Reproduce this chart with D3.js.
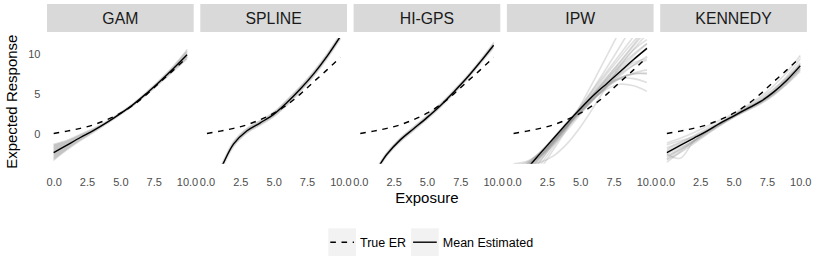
<!DOCTYPE html>
<html>
<head>
<meta charset="utf-8">
<script src="https://cdn.jsdelivr.net/npm/d3@7"></script>
<style>
  body { margin: 0; background: #fff; }
  text { font-family: "Liberation Sans", Arial, Helvetica, sans-serif; }
</style>
</head>
<body>
<div id="chart"></div>
<script>
// exposure grid shared by every curve
const exposure = [0, 1, 2, 3, 4, 5, 6, 7, 8, 9, 10];
const methods = ["GAM", "SPLINE", "HI-GPS", "IPW", "KENNEDY"];
const xTicks = [0, 2.5, 5, 7.5, 10];
const yTicks = [0, 5, 10];

// true exposure-response (dashed)
const trueER = [0, 0.3, 0.65, 1.1, 1.75, 2.55, 3.6, 4.95, 6.5, 8.0, 9.6];

// mean estimated curves (solid)
const meanGAM = [-2.4, -1.45, -0.5, 0.4, 1.4, 2.5, 3.7, 5.1, 6.6, 8.2, 9.9];
const meanSPLINE = [-7.5, -4.5, -1.3, 0.35, 1.35, 2.4, 3.9, 5.6, 7.5, 9.7, 12.2];
const meanHIGPS = [-6.5, -5.0, -2.6, -0.8, 0.6, 2.0, 3.5, 5.2, 7.0, 9.0, 11.1];
const meanIPW = [-5.9, -4.4, -2.5, -0.6, 1.3, 3.1, 4.8, 6.3, 7.8, 9.3, 10.7];
const meanKENNEDY = [-2.4, -1.5, -0.6, 0.3, 1.3, 2.2, 3.1, 4.0, 5.2, 6.7, 8.5];

// grey bands around the smoother fits
const lowerGAM = [-3.4, -2.1, -0.95, 0.1, 1.2, 2.3, 3.5, 4.85, 6.3, 7.8, 9.3];
const upperGAM = [-1.3, -0.8, -0.05, 0.7, 1.6, 2.7, 3.9, 5.35, 6.9, 8.6, 10.6];
const lowerSPLINE = [-7.9, -4.9, -1.7, 0.0, 1.0, 2.05, 3.5, 5.2, 7.1, 9.3, 11.8];
const upperSPLINE = [-7.1, -4.1, -0.9, 0.7, 1.7, 2.75, 4.3, 6.0, 7.9, 10.1, 12.6];
const lowerHIGPS = [-6.8, -5.3, -2.9, -1.1, 0.3, 1.7, 3.2, 4.9, 6.7, 8.7, 10.7];
const upperHIGPS = [-6.2, -4.7, -2.3, -0.5, 0.9, 2.3, 3.8, 5.5, 7.3, 9.3, 11.5];

// individual replicate fits
const runsIPW = [
  [-6, -4.3, -2.5, -0.8, 0.9, 2.6, 4.3, 6.0, 7.6, 9.2, 10.8],
  [-7, -5, -3, -1, 1, 3, 5, 7, 9, 11, 13],
  [-5, -3.8, -2.3, -0.6, 1.1, 2.8, 4.4, 5.8, 6.9, 7.6, 8.0],
  [-4.2, -3.6, -2.4, -0.8, 1.0, 2.9, 4.6, 6.0, 7.0, 7.5, 7.6],
  [-3.9, -3.7, -2.8, -1.2, 0.8, 2.9, 4.8, 6.2, 6.9, 6.9, 6.4],
  [-8, -5.8, -3.5, -1.2, 1.0, 3.1, 5.1, 7.1, 9.1, 11.2, 13.5],
  [-9, -6.5, -4, -1.6, 0.8, 3.2, 5.7, 8.3, 11, 13.8, 16.7],
  [-6.5, -4.6, -2.7, -0.8, 1.1, 3.0, 4.9, 6.8, 8.5, 10.0, 11.3],
  [-5.5, -4.0, -2.4, -0.7, 1.0, 2.7, 4.3, 5.9, 7.3, 8.6, 9.7],
  [-4.5, -3.9, -2.9, -1.4, 0.4, 2.4, 4.3, 5.9, 7.0, 7.5, 7.5],
  [-5.2, -4.1, -2.7, -1.1, 0.7, 2.6, 4.5, 6.3, 7.8, 8.9, 9.4],
  [-7.5, -5.5, -3.4, -1.3, 0.9, 3.1, 5.3, 7.5, 9.6, 11.6, 13.5],
  [-4.2, -4.0, -3.6, -2.8, -1.3, 0.8, 3.3, 6.0, 8.5, 10.5, 11.8],
  [-10, -7, -4.5, -2, 0.6, 3.5, 6.6, 9.8, 13, 16, 19],
  [-3.8, -3.5, -2.5, -1.0, 0.9, 2.8, 4.4, 5.6, 6.2, 6.0, 5.3],
  [-6.8, -5.0, -3.1, -1.0, 1.2, 3.4, 5.6, 7.8, 10.0, 12.2, 14.4],
  [-6.2, -4.6, -2.8, -0.9, 1.0, 2.9, 4.7, 6.5, 8.2, 9.8, 11.3],
  [-5.8, -4.2, -2.4, -0.5, 1.4, 3.2, 4.9, 6.5, 8.0, 9.4, 10.6],
  [-6.6, -4.8, -2.9, -0.9, 1.1, 3.0, 4.9, 6.8, 8.7, 10.6, 12.5],
  [-4.8, -3.9, -2.6, -0.9, 0.9, 2.7, 4.5, 6.1, 7.5, 8.6, 9.2]
];
const runsKENNEDY = [
  [-1.4, -0.9, -0.4, 0.4, 1.3, 2.2, 3.2, 4.2, 5.5, 7.2, 9.4],
  [-3.6, -2.3, -1.0, 0.2, 1.2, 2.1, 3.0, 3.9, 5.0, 6.4, 8.0],
  [-2.0, -1.2, -0.5, 0.4, 1.4, 2.3, 3.2, 4.1, 5.3, 6.9, 8.9],
  [-3.0, -1.9, -0.9, 0.2, 1.2, 2.1, 3.0, 3.9, 5.0, 6.5, 8.2],
  [-1.2, -0.6, 0.1, 0.9, 1.7, 2.5, 3.5, 4.6, 6.0, 7.7, 9.8],
  [-3.3, -2.4, -1.3, -0.1, 1.0, 2.0, 2.9, 3.8, 4.9, 6.2, 7.8],
  [-2.6, -1.7, -0.9, 0.2, 1.3, 2.3, 3.1, 3.9, 5.1, 6.8, 8.7],
  [-2.6, -3.1, -1.0, 0.3, 1.2, 2.2, 3.2, 4.0, 5.2, 6.6, 8.3],
  [-1.8, -1.1, -0.3, 0.6, 1.4, 2.3, 3.3, 4.4, 5.6, 7.0, 8.6],
  [-2.8, -2.0, -1.1, 0.0, 1.1, 2.1, 2.9, 3.7, 4.8, 6.3, 8.1],
  [-2.2, -1.4, -0.6, 0.3, 1.3, 2.2, 3.2, 4.1, 5.3, 6.8, 8.6],
  [-3.2, -2.1, -1.0, 0.1, 1.1, 2.1, 3.0, 4.0, 5.2, 6.6, 8.3]
];

const means = { "GAM": meanGAM, "SPLINE": meanSPLINE, "HI-GPS": meanHIGPS, "IPW": meanIPW, "KENNEDY": meanKENNEDY };
const bands = {
  "GAM": d3.zip(lowerGAM, upperGAM),
  "SPLINE": d3.zip(lowerSPLINE, upperSPLINE),
  "HI-GPS": d3.zip(lowerHIGPS, upperHIGPS)
};
const runs = { "IPW": runsIPW, "KENNEDY": runsKENNEDY };

const width = 814;
const height = 271;
const panelTop = 31.7;
const panelBottom = 171.7;
const panelLeft = 47;
const panelW = 146.7;
const panelGap = 6.6;
const font = '"Liberation Sans", Arial, Helvetica, sans-serif';

const svg = d3.select("#chart")
  .append("svg")
  .attr("width", width)
  .attr("height", height);

// shared y scale (values outside -3.8..12 are cut off)
const y = d3.scaleLinear().domain([-4.8, 12.8]).range([panelBottom, panelTop]);

methods.forEach((m, i) => {
  const x0 = panelLeft + i * (panelW + panelGap);
  const x = d3.scaleLinear().domain([-0.5, 10.5]).range([x0, x0 + panelW]);

  const line = d3.line()
    .x((d, j) => x(exposure[j]))
    .y(d => y(d))
    .curve(d3.curveCatmullRom);

  const g = svg.append("g");

  // strip
  g.append("rect")
    .attr("x", x0).attr("y", 4)
    .attr("width", panelW).attr("height", 28)
    .attr("fill", "#d9d9d9");
  g.append("text")
    .attr("x", x0 + panelW / 2).attr("y", 18)
    .attr("dy", "0.36em")
    .attr("text-anchor", "middle")
    .attr("font-size", 15.8)
    .attr("fill", "#1a1a1a")
    .text(m);

  // clip
  const clipId = "clip" + i;
  svg.append("clipPath").attr("id", clipId)
    .append("rect")
    .attr("x", x0).attr("y", y(12))
    .attr("width", panelW).attr("height", y(-3.8) - y(12));

  const plot = g.append("g").attr("clip-path", `url(#${clipId})`);

  if (bands[m]) {
    const area = d3.area()
      .x((d, j) => x(exposure[j]))
      .y0(d => y(d[0]))
      .y1(d => y(d[1]))
      .curve(d3.curveCatmullRom);
    plot.append("path")
      .datum(bands[m])
      .attr("d", area)
      .attr("fill", "#c4c4c4")
      .attr("stroke", "#e0e0e0")
      .attr("stroke-width", 0.8);
  }

  if (runs[m]) {
    plot.append("g")
      .selectAll("path")
      .data(runs[m])
      .join("path")
      .attr("d", line)
      .attr("fill", "none")
      .attr("stroke", "#999")
      .attr("stroke-opacity", 0.3)
      .attr("stroke-width", 1.6);
  }

  plot.append("path")
    .datum(means[m])
    .attr("d", line)
    .attr("fill", "none")
    .attr("stroke", "#000")
    .attr("stroke-width", 1.4);

  plot.append("path")
    .datum(trueER)
    .attr("d", line)
    .attr("fill", "none")
    .attr("stroke", "#000")
    .attr("stroke-width", 1.4)
    .attr("stroke-dasharray", "5.6,5.6");

  // x axis
  const xAxis = g.append("g")
    .attr("transform", `translate(0,${panelBottom})`)
    .call(d3.axisBottom(x).tickValues(xTicks).tickFormat(d3.format(".1f")).tickSize(0).tickPadding(6.6));
  xAxis.select(".domain").remove();
  xAxis.selectAll("text")
    .attr("font-size", 11)
    .attr("font-family", font)
    .attr("fill", "#4d4d4d");

  // y axis only on the first panel
  if (i === 0) {
    const yAxis = g.append("g")
      .attr("transform", `translate(${x0},0)`)
      .call(d3.axisLeft(y).tickValues(yTicks).tickSize(0).tickPadding(6.6));
    yAxis.select(".domain").remove();
    yAxis.selectAll("text")
      .attr("font-size", 11)
      .attr("font-family", font)
      .attr("fill", "#4d4d4d");
  }
});

// axis titles
const plotRight = panelLeft + 5 * panelW + 4 * panelGap;
svg.append("text")
  .attr("x", (panelLeft + plotRight) / 2)
  .attr("y", 203)
  .attr("text-anchor", "middle")
  .attr("font-size", 15)
  .text("Exposure");

svg.append("text")
  .attr("transform", `translate(17,${(panelTop + panelBottom) / 2}) rotate(-90)`)
  .attr("text-anchor", "middle")
  .attr("font-size", 15)
  .text("Expected Response");

// legend
const legendItems = [
  { label: "True ER", dash: "5.6,5.6" },
  { label: "Mean Estimated", dash: null }
];
const keySize = 27.7;
const legendY = 242.2;
let lx = 328.3;
legendItems.forEach(item => {
  const lg = svg.append("g");
  lg.append("rect")
    .attr("x", lx).attr("y", legendY - keySize / 2)
    .attr("width", keySize).attr("height", keySize)
    .attr("fill", "#f2f2f2");
  lg.append("line")
    .attr("x1", lx + 2).attr("x2", lx + keySize - 2)
    .attr("y1", legendY).attr("y2", legendY)
    .attr("stroke", "#000")
    .attr("stroke-width", 1.4)
    .attr("stroke-dasharray", item.dash);
  const t = lg.append("text")
    .attr("x", lx + keySize + 4)
    .attr("y", legendY)
    .attr("dy", "0.36em")
    .attr("font-size", 12.5)
    .text(item.label);
  lx += keySize + 4 + t.node().getComputedTextLength() + 5;
});
</script>
</body>
</html>
